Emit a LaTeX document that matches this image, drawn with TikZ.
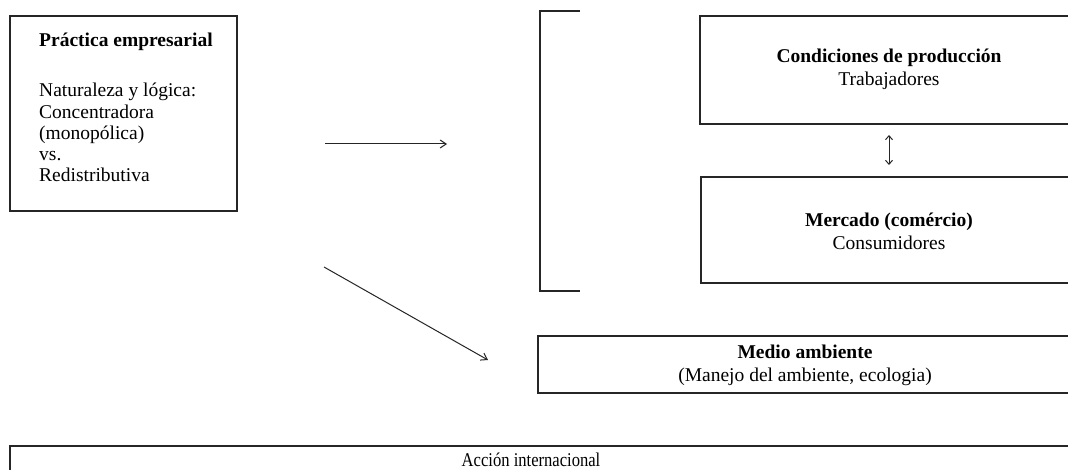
\documentclass[tikz,border=0pt]{standalone}
\usepackage{fontspec}
\setmainfont{Liberation Serif}
\usetikzlibrary{arrows.meta}
\begin{document}
\begin{tikzpicture}[x=1pt,y=-1pt,
  box/.style={draw=black!85, line width=1.1pt, inner sep=0pt, outer sep=0pt, anchor=north west},
  txt/.style={inner sep=0pt, font=\fontsize{19.5}{21.3}\selectfont},
  bold/.style={inner sep=0pt, font=\fontsize{19.5}{21.3}\selectfont\bfseries},
  arr/.style={draw=black!85, line width=1pt, -{Straight Barb[length=6pt,width=8pt]}},
  darr/.style={draw=black!85, line width=1pt, {Straight Barb[length=4pt,width=7pt]}-{Straight Barb[length=4pt,width=7pt]}}]
\useasboundingbox (0,0) rectangle (1068,470);
\clip (0,0) rectangle (1068,470);
\fill[white] (0,0) rectangle (1068,470);

% left box
\node[box, minimum width=227pt, minimum height=195pt] (prac) at (10,16) {};
\node[bold, anchor=base west] (pracT) at (39,47) {Práctica empresarial};
\node[txt, anchor=base west, align=left] (pracB) at (39,182) {Naturaleza y lógica:\\Concentradora\\(monopólica)\\vs.\\Redistributiva};

% arrows from left box
\coordinate (a1) at (325,144);
\coordinate (a2) at (447,144);
\draw[arr] (a1) -- (a2);
\coordinate (b1) at (324,267);
\coordinate (b2) at (488,360);
\draw[arr] (b1) -- (b2);

% bracket
\coordinate (k1) at (580,11);
\coordinate (k2) at (540,11);
\coordinate (k3) at (540,291);
\coordinate (k4) at (580,291);
\draw[draw=black!85, line width=1.1pt] (k1) -- (k2) -- (k3) -- (k4);

% right boxes
\node[box, minimum width=380pt, minimum height=108pt] (cond) at (700,16) {};
\node[bold, anchor=base] (condT) at (889,63) {Condiciones de producción};
\node[txt, anchor=base] (condB) at (889,86) {Trabajadores};

\coordinate (d1) at (889,135);
\coordinate (d2) at (889,165);
\draw[darr] (d1) -- (d2);

\node[box, minimum width=380pt, minimum height=106pt] (merc) at (701,177) {};
\node[bold, anchor=base] (mercT) at (889,227) {Mercado (comércio)};
\node[txt, anchor=base] (mercB) at (889,250) {Consumidores};

\node[box, minimum width=540pt, minimum height=57pt] (medio) at (538,336) {};
\node[bold, anchor=base] (medioT) at (805,358) {Medio ambiente};
\node[txt, anchor=base] (medioB) at (805,381) {(Manejo del ambiente, ecologia)};

\node[box, minimum width=1070pt, minimum height=60pt] (accion) at (10,446) {};
\node[txt, anchor=base] (accionT) at (531,466) {\scalebox{0.85}[1]{Acción internacional}};
\end{tikzpicture}
\end{document}
